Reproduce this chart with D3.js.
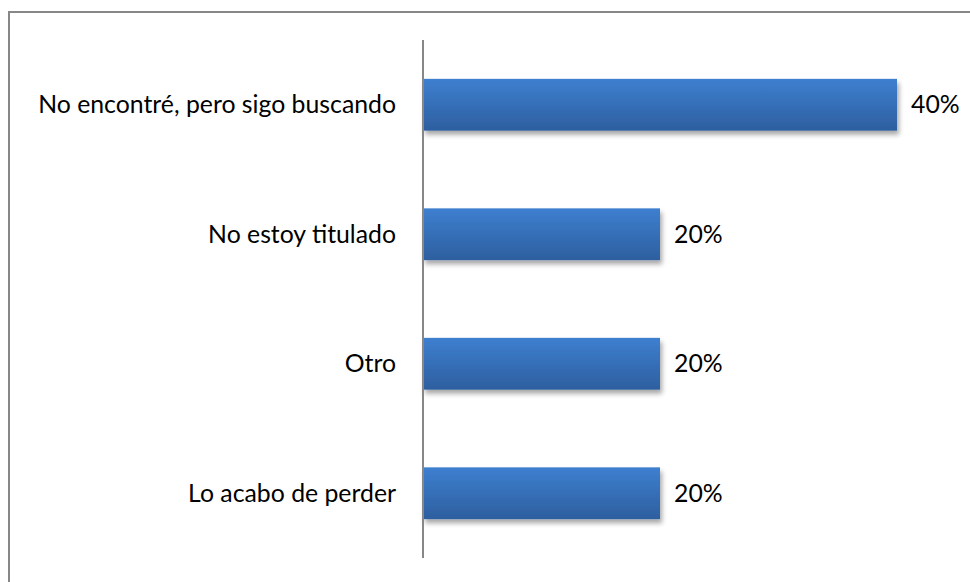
<!DOCTYPE html>
<html>
<head>
<meta charset="utf-8">
<script src="https://cdn.jsdelivr.net/npm/d3@7"></script>
<style>
body { margin: 0; background: #fff; }
svg { display: block; }
text { font-family: Lato, "Open Sans", sans-serif; font-size: 24.8px; fill: #000; }
</style>
</head>
<body>
<svg width="970" height="582"></svg>
<script>
var categories = ["No encontré, pero sigo buscando", "No estoy titulado", "Otro", "Lo acabo de perder"]
var values = [0.40, 0.20, 0.20, 0.20]

var svg = d3.select("svg"),
	width = +svg.attr("width"),
	height = +svg.attr("height")

var axisX = 423

var defs = svg.append("defs")
var grad = defs.append("linearGradient").attr("id", "barGrad")
	.attr("x1", 0).attr("y1", 0).attr("x2", 0).attr("y2", 1)
grad.append("stop").attr("offset", "0%").attr("stop-color", "#3e7fd0")
grad.append("stop").attr("offset", "100%").attr("stop-color", "#2d5f9f")

var shadow = defs.append("filter").attr("id", "shadow")
	.attr("x", "-5%").attr("y", "-10%").attr("width", "115%").attr("height", "140%")
shadow.append("feDropShadow").attr("dx", 2).attr("dy", 4).attr("stdDeviation", 2.5)
	.attr("flood-color", "#000").attr("flood-opacity", 0.35)

// frame
svg.append("rect")
	.attr("x", 9).attr("y", 12)
	.attr("width", 980).attr("height", 600)
	.attr("fill", "none").attr("stroke", "#878787").attr("stroke-width", 2)

var x = d3.scaleLinear().domain([0, 0.40]).range([axisX, 897])
var y = d3.scaleBand().domain(categories).range([40, 558]).paddingInner(0.6).paddingOuter(0.3)

var bars = svg.append("g").attr("id", "bars")
bars.selectAll("rect").data(values).enter().append("rect")
	.attr("x", x(0))
	.attr("y", (d, i) => y(categories[i]))
	.attr("width", d => x(d) - x(0))
	.attr("height", y.bandwidth())
	.attr("fill", "url(#barGrad)")
	.attr("filter", "url(#shadow)")

// axis line
svg.append("line")
	.attr("x1", axisX).attr("x2", axisX)
	.attr("y1", 40).attr("y2", 558)
	.attr("stroke", "#878787").attr("stroke-width", 2)

svg.append("g").selectAll("text").data(categories).enter().append("text")
	.attr("x", axisX - 27)
	.attr("y", d => y(d) + y.bandwidth() / 2)
	.attr("dy", "0.35em")
	.attr("text-anchor", "end")
	.text(d => d)

svg.append("g").selectAll("text").data(values).enter().append("text")
	.attr("x", d => x(d) + 14)
	.attr("y", (d, i) => y(categories[i]) + y.bandwidth() / 2)
	.attr("dy", "0.35em")
	.text(d => Math.round(d * 100) + "%")
</script>
</body>
</html>
